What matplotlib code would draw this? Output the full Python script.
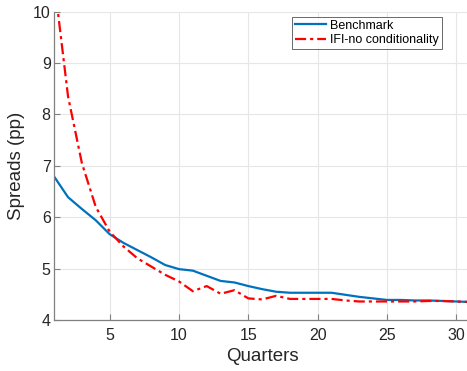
import matplotlib
matplotlib.use("Agg")
import matplotlib.pyplot as plt

quarters = list(range(1, 32))
benchmark = [6.79, 6.39, 6.16, 5.94, 5.67, 5.50, 5.36, 5.22, 5.07, 4.99,
             4.96, 4.86, 4.76, 4.73, 4.66, 4.60, 4.55, 4.53, 4.53, 4.53,
             4.53, 4.49, 4.45, 4.42, 4.39, 4.39, 4.38, 4.38, 4.37, 4.36, 4.35]
ifi_no_cond = [10.6, 8.35, 7.05, 6.2, 5.72, 5.43, 5.20, 5.04, 4.88, 4.75,
               4.56, 4.66, 4.51, 4.58, 4.42, 4.40, 4.47, 4.41, 4.41, 4.41,
               4.41, 4.38, 4.36, 4.36, 4.36, 4.36, 4.36, 4.37, 4.37, 4.36, 4.35]
xticks = [5, 10, 15, 20, 25, 30]
yticks = [4, 5, 6, 7, 8, 9, 10]

plt.rcParams['font.family'] = ['Liberation Sans', 'DejaVu Sans']

fig = plt.figure(figsize=(4.67, 3.71), dpi=100)
ax = fig.add_axes([0.116, 0.1375, 0.891, 0.831])

ax.plot(quarters, benchmark, color='#0072BD', lw=1.6, label='Benchmark')
ax.plot(quarters, ifi_no_cond, color='#FF0000', lw=1.6, ls=(0, (5, 1.8, 1.4, 1.8)),
        label='IFI-no conditionality')

ax.set_xlim(1, 31)
ax.set_ylim(4, 10)
ax.set_xticks(xticks)
ax.set_yticks(yticks)
ax.grid(True, color='#e6e6e6', lw=0.8)
ax.set_axisbelow(True)
for s in ['top', 'right']:
    ax.spines[s].set_visible(False)
for s in ['left', 'bottom']:
    ax.spines[s].set_color('#808080')
    ax.spines[s].set_linewidth(0.9)
ax.tick_params(direction='in', length=4, width=0.8, color='#808080',
               labelsize=11.5, labelcolor='#262626')
ax.tick_params(axis='x', pad=6)
ax.tick_params(axis='y', pad=2.5)
ax.set_xlabel('Quarters', fontsize=13.5, color='#262626', labelpad=3.5)
ax.set_ylabel('Spreads (pp)', fontsize=13.5, color='#262626', labelpad=5.5)

leg = ax.legend(loc='upper left', bbox_to_anchor=(0.571, 0.984), fontsize=9,
                frameon=True, fancybox=False, edgecolor='#262626',
                handlelength=2.5, handletextpad=0.3, borderpad=0.25,
                labelspacing=0.18, borderaxespad=0)
leg.get_frame().set_linewidth(0.6)

fig.savefig('out.png', dpi=100)
